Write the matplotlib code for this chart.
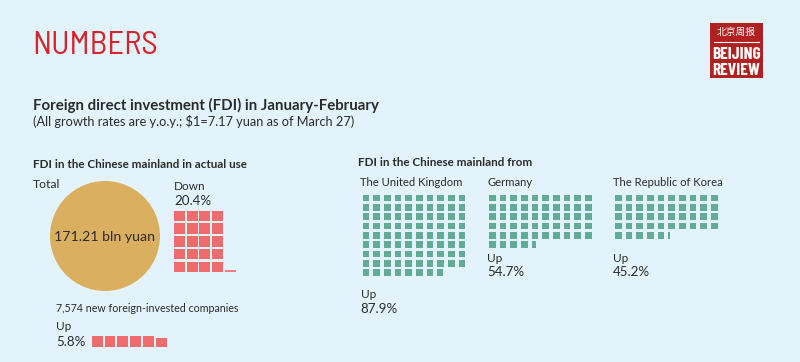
import matplotlib.pyplot as plt
from matplotlib.patches import Rectangle, Circle

# data read from the infographic
total_fdi = "171.21 bln yuan"
fdi_change = 20.4          # percent, down
new_companies = "7,574"
companies_change = 5.8     # percent, up
countries = ["The United Kingdom", "Germany", "The Republic of Korea"]
country_change = [87.9, 54.7, 45.2]   # percent, up

bg = "#E2F3FB"
red = "#F06B6B"
green = "#62AB97"
gold = "#DAAF60"
txt = "#2B2B2B"
cond = ["Barlow Condensed", "DejaVu Sans"]

plt.rcParams['font.family'] = ['Lato', 'DejaVu Sans']

fig = plt.figure(figsize=(8, 3.62), dpi=100)
fig.patch.set_facecolor(bg)
ax = fig.add_axes([0, 0, 1, 1])
ax.set_xlim(0, 800)
ax.set_ylim(362, 0)
ax.axis("off")
ax.set_facecolor(bg)

# header
ax.text(32, 46, "NUMBERS", color="#D8232E", fontsize=23.5,
        family=["Barlow Semi Condensed", "DejaVu Sans"], va="center")

# logo
ax.add_patch(Rectangle((710, 23), 53, 55, facecolor="#B1211F", lw=0))
ax.text(736.5, 32, "北京周报", color="white", fontsize=7,
        family=["Noto Sans CJK SC", "DejaVu Sans"], ha="center", va="center")
ax.plot([714, 759], [41.5, 41.5], color="white", lw=0.8)
ax.text(736.5, 54.5, "BEIJING", color="white", fontsize=12.5, fontweight="bold",
        family=cond, ha="center", va="center")
ax.text(736.5, 70.5, "REVIEW", color="white", fontsize=12.5, fontweight="bold",
        family=cond, ha="center", va="center")

ax.text(33, 105, "Foreign direct investment (FDI) in January-February",
        fontsize=10.8, fontweight="bold", color=txt, va="center")
ax.text(33, 122, "(All growth rates are y.o.y.; $1=7.17 yuan as of March 27)",
        fontsize=9.2, color=txt, va="center")

# left panel
ax.text(33, 164, "FDI in the Chinese mainland in actual use",
        fontsize=8.4, fontweight="bold", color=txt, va="center")
ax.text(33, 185, "Total", fontsize=8.8, color=txt, va="center")
ax.add_patch(Circle((105, 236), 55, facecolor=gold, lw=0))
ax.text(105, 237, total_fdi, fontsize=10.2, color=txt, ha="center", va="center")

ax.text(174, 186, "Down", fontsize=8.5, color=txt, va="center")
ax.text(174, 201, f"{fdi_change}%", fontsize=9.6, color=txt, va="center")

# waffle of the decline: 4 columns, filled row by row
n_full = int(fdi_change)
frac = fdi_change - n_full
x0, y0, pitch, w, h = 174, 210.7, 12.7, 11, 10.6
for i in range(n_full):
    r, c = divmod(i, 4)
    ax.add_patch(Rectangle((x0 + c * pitch, y0 + r * pitch), w, h, facecolor=red, lw=0))
last_row = (n_full - 1) // 4
ax.add_patch(Rectangle((x0 + 4 * pitch, y0 + last_row * pitch + h - 2),
                       w, frac * 5, facecolor="#F28080", lw=0))

ax.text(56, 308, f"{new_companies} new foreign-invested companies",
        fontsize=7.7, color=txt, va="center")
ax.text(56, 327, "Up", fontsize=8.5, color=txt, va="center")
ax.text(56, 342, f"{companies_change}%", fontsize=9.6, color=txt, va="center")
n_full = int(companies_change)
frac = companies_change - n_full
bx0, by0, bpitch, bw, bh = 91.7, 336, 12.8, 10.8, 10.7
for i in range(n_full):
    ax.add_patch(Rectangle((bx0 + i * bpitch, by0), bw, bh, facecolor=red, lw=0))
ax.add_patch(Rectangle((bx0 + n_full * bpitch, by0 + bh * (1 - frac)),
                       bw, bh * frac, facecolor=red, lw=0))

# right panel
ax.text(358, 163, "FDI in the Chinese mainland from",
        fontsize=8.4, fontweight="bold", color=txt, va="center")
grid_x = [362.5, 489, 615]
gy0, px, py, sw, sh = 194.7, 10.67, 9.33, 6.8, 6.6
for name, val, gx in zip(countries, country_change, grid_x):
    ax.text(gx - 2, 182, name, fontsize=8.1, color=txt, va="center")
    n_full = int(val)
    frac = val - n_full
    for i in range(n_full):
        r, c = divmod(i, 10)
        ax.add_patch(Rectangle((gx + c * px, gy0 + r * py), sw, sh, facecolor=green, lw=0))
    r, c = divmod(n_full, 10)
    ax.add_patch(Rectangle((gx + c * px, gy0 + r * py), sw * frac, sh, facecolor=green, lw=0))
    rows = r + 1
    y_up = gy0 + rows * py + 16 if rows > 6 else 258
    ax.text(gx - 2, y_up, "Up", fontsize=8.5, color=txt, va="center")
    ax.text(gx - 2, y_up + 14, f"{val}%", fontsize=9.6, color=txt, va="center")

fig.savefig("out.png", dpi=100, facecolor=bg)
